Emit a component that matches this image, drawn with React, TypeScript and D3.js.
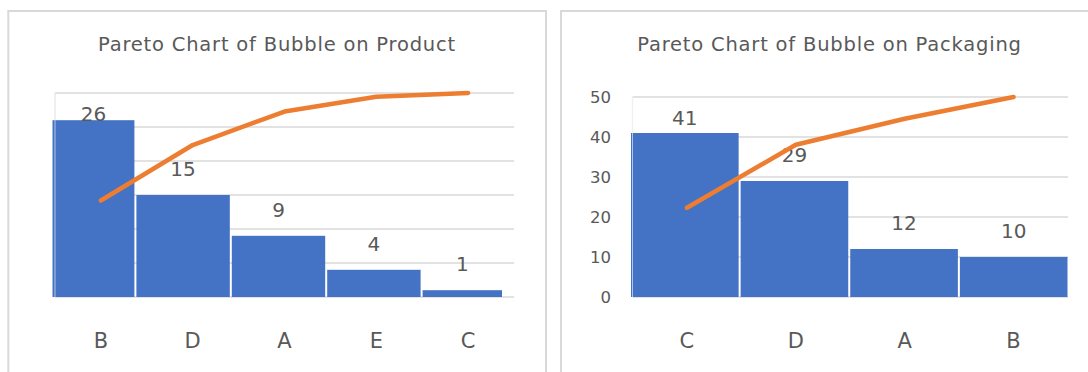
import React from "react";
import * as d3 from "d3";

// ---- Data ----
const productCategories = ["B", "D", "A", "E", "C"];
const productCounts = [26, 15, 9, 4, 1];
const productCumPct = [47.3, 74.5, 90.9, 98.2, 100];

const packagingCategories = ["C", "D", "A", "B"];
const packagingCounts = [41, 29, 12, 10];
const packagingCumPct = [44.6, 76.1, 89.1, 100];

const productYTicks = [0, 5, 10, 15, 20, 25, 30];
const packagingYTicks = [0, 10, 20, 30, 40, 50];

const titles = ["Pareto Chart of Bubble on Product", "Pareto Chart of Bubble on Packaging"];

const FONT = "'DejaVu Sans', Verdana, sans-serif";
const TEXT = "#595959";
const GRID = "#d9d9d9";
const BAR = "#4472C4";
const LINE = "#ED7D31";

type Cfg = {
  title: string;
  cats: string[];
  counts: number[];
  cum: number[];
  yTicks: number[];
  showYLabels: boolean;
  plotLeft: number;
  plotRight: number;
  yTop: number;
  yBase: number;
  barRange: [number, number];
  clip: [number, number];
  titleX: number;
  tickX: number;
};

function Pareto({ cfg, id }: { cfg: Cfg; id: string }) {
  const yMax = cfg.yTicks[cfg.yTicks.length - 1];
  const y = d3.scaleLinear().domain([0, yMax]).range([cfg.yBase, cfg.yTop]);
  const yPct = d3.scaleLinear().domain([0, 100]).range([cfg.yBase, cfg.yTop]);
  const xAxis = d3.scaleBand<string>().domain(cfg.cats).range([cfg.plotLeft, cfg.plotRight]);
  const xBar = d3.scaleBand<string>().domain(cfg.cats).range(cfg.barRange);
  const gap = 2;
  const line = d3
    .line<number>()
    .x((_, i) => (xAxis(cfg.cats[i]) as number) + xAxis.bandwidth() / 2)
    .y((v) => yPct(v));

  return (
    <g>
      <text x={cfg.titleX} y={51} textAnchor="middle" fontFamily={FONT} fontSize={19.5} letterSpacing={0.8} fill={TEXT}>
        {cfg.title}
      </text>
      {cfg.yTicks.map((t) => (
        <line key={"g" + t} x1={cfg.plotLeft} x2={cfg.plotRight} y1={y(t)} y2={y(t)} stroke={GRID} strokeWidth={1.3} />
      ))}
      <line x1={cfg.plotLeft} x2={cfg.plotLeft} y1={cfg.yTop} y2={cfg.yBase} stroke={GRID} strokeWidth={1.2} />
      {cfg.showYLabels &&
        cfg.yTicks.map((t) => (
          <text key={"t" + t} x={cfg.tickX} y={y(t)} dy="0.36em" textAnchor="end" fontFamily={FONT} fontSize={16.5} fill={TEXT}>
            {t}
          </text>
        ))}
      <clipPath id={id}>
        <rect x={cfg.clip[0]} y={0} width={cfg.clip[1] - cfg.clip[0]} height={400} />
      </clipPath>
      <g clipPath={`url(#${id})`}>
        {cfg.cats.map((c, i) => {
          const x0 = (xBar(c) as number) + gap / 2;
          const w = xBar.bandwidth() - gap;
          return <rect key={c} x={x0} y={y(cfg.counts[i])} width={w} height={cfg.yBase - y(cfg.counts[i])} fill={BAR} />;
        })}
      </g>
      <line x1={cfg.plotLeft} x2={cfg.plotLeft} y1={cfg.yTop} y2={cfg.yBase} stroke="#ffffff" strokeOpacity={0.6} strokeWidth={1} />
      {cfg.cats.map((c, i) => {
        const x0 = Math.max((xBar(c) as number) + gap / 2, cfg.clip[0]);
        const x1 = Math.min((xBar(c) as number) + xBar.bandwidth() - gap / 2, cfg.clip[1]);
        const top = y(cfg.counts[i]);
        const ly = Math.max(top - 19, cfg.yTop + 28);
        return (
          <text key={"l" + c} x={(x0 + x1) / 2} y={ly} textAnchor="middle" fontFamily={FONT} fontSize={20} fill={TEXT}>
            {cfg.counts[i]}
          </text>
        );
      })}
      <path d={line(cfg.cum) || ""} fill="none" stroke={LINE} strokeWidth={4.5} strokeLinecap="round" strokeLinejoin="round" />
      {cfg.cats.map((c) => (
        <text key={"x" + c} x={(xAxis(c) as number) + xAxis.bandwidth() / 2} y={347.5} textAnchor="middle" fontFamily={FONT} fontSize={21} fill={TEXT}>
          {c}
        </text>
      ))}
    </g>
  );
}

export default function App() {
  const left: Cfg = {
    title: titles[0],
    cats: productCategories,
    counts: productCounts,
    cum: productCumPct,
    yTicks: productYTicks,
    showYLabels: false,
    plotLeft: 55,
    plotRight: 514,
    yTop: 93,
    yBase: 297,
    barRange: [40, 517],
    clip: [52.5, 502],
    titleX: 277,
    tickX: 0,
  };
  const right: Cfg = {
    title: titles[1],
    cats: packagingCategories,
    counts: packagingCounts,
    cum: packagingCumPct,
    yTicks: packagingYTicks,
    showYLabels: true,
    plotLeft: 632.5,
    plotRight: 1068,
    yTop: 97,
    yBase: 297,
    barRange: [630, 1068.5],
    clip: [629, 1070],
    titleX: 829.5,
    tickX: 611,
  };
  return (
    <svg width={1088} height={372} style={{ position: "absolute", left: 0, top: 0, background: "#fff" }}>
      <rect x={0} y={0} width={1088} height={372} fill="#ffffff" />
      <rect x={8.3} y={11} width={537.7} height={400} fill="#fff" stroke={GRID} strokeWidth={2} />
      <rect x={561} y={11} width={600} height={400} fill="#fff" stroke={GRID} strokeWidth={2} />
      <Pareto cfg={left} id="clipL" />
      <Pareto cfg={right} id="clipR" />
    </svg>
  );
}
